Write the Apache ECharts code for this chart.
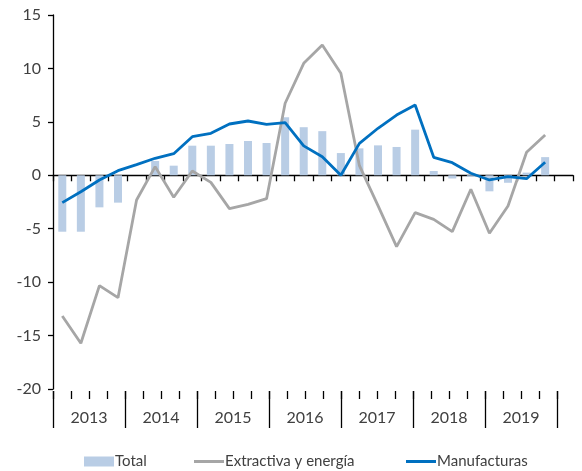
<!DOCTYPE html>
<html>
<head>
<meta charset="utf-8">
<script src="https://cdn.jsdelivr.net/npm/echarts@6/dist/echarts.min.js"></script>
<style>
  html, body { margin: 0; padding: 0; background: #fff; }
  #chart { width: 582px; height: 471px; }
</style>
</head>
<body>
<div id="chart"></div>
<script>
// trimestres 2013-2019 (el último sin dato)
var years = ['2013', '2014', '2015', '2016', '2017', '2018', '2019']
var quarters = []
years.forEach(function (y) {
    for (var q = 1; q <= 4; q++) quarters.push(y + 'T' + q)
})

var total = [-5.28, -5.28, -3.0, -2.56, 0, 1.34, 0.9, 2.77, 2.77, 2.93, 3.21, 3.02, 5.43, 4.5,
    4.13, 2.08, 2.52, 2.8, 2.65, 4.27, 0.4, -0.3, -0.13, -1.5, -0.7, 0.25, 1.7, null]
var extractiva = [-13.17, -15.72, -10.33, -11.45, -2.31, 0.81, -2.06, 0.4, -0.66, -3.12, -2.72, -2.19, 6.74, 10.48,
    12.19, 9.54, 0.9, -2.84, -6.68, -3.5, -4.12, -5.27, -1.31, -5.43, -2.87, 2.15, 3.77, null]
var manufacturas = [-2.56, -1.54, -0.44, 0.43, 1.0, 1.59, 2.02, 3.61, 3.93, 4.8, 5.08, 4.77, 4.92, 2.75,
    1.74, 0.0, 2.99, 4.4, 5.64, 6.58, 1.68, 1.18, 0.19, -0.44, -0.13, -0.32, 1.22, null]
var yTicks = [-20, -15, -10, -5, 0, 5, 10, 15]

var font = 'Lato'
var txtColor = '#404040'
var lineIcon = 'path://M0,0 L30,0 L30,3 L0,3 Z'

// geometría del área de trazado
var plotTop = 15, plotH = 374, plotLeft = 53, plotW = 520
var zeroY = plotTop + plotH * yTicks[yTicks.length - 1] / (yTicks[yTicks.length - 1] - yTicks[0])

var myChart = echarts.init(document.getElementById('chart'))

var legendBase = {
    top: 449,
    itemWidth: 30,
    itemHeight: 10,
    itemGap: 5,
    textStyle: { fontFamily: font, fontSize: 15, color: txtColor, padding: [0, 0, 0, -4] }
}

var option = {
    animation: false,
    legend: [
        Object.assign({ left: 79, data: [{ name: 'Total', icon: 'rect' }] }, legendBase),
        Object.assign({ left: 189, data: [{ name: 'Extractiva y energía', icon: lineIcon }] }, legendBase),
        Object.assign({ left: 401, data: [{ name: 'Manufacturas', icon: lineIcon }] }, legendBase)
    ],
    grid: [
        // franja bajo el cero: línea + marcas trimestrales
        { left: plotLeft, top: zeroY, width: plotW, height: 6 },
        { left: plotLeft, top: plotTop, width: plotW, height: plotH },
        { left: plotLeft, top: 391, width: 504, height: 0 }
    ],
    xAxis: [
        {
            gridIndex: 0,
            type: 'category',
            position: 'top',
            data: quarters,
            axisLine: { show: true, onZero: false, lineStyle: { color: '#000', width: 1.3 } },
            axisTick: { show: false },
            axisLabel: { show: false },
            splitLine: { show: true, interval: 0, lineStyle: { color: '#000', width: 1.3 } }
        },
        {
            gridIndex: 1,
            type: 'category',
            data: quarters,
            show: false
        },
        {
            // año
            gridIndex: 2,
            type: 'category',
            position: 'bottom',
            data: years,
            axisLine: { show: false },
            axisTick: { show: true, interval: 0, length: 37, lineStyle: { color: '#000', width: 1.3 } },
            axisLabel: { margin: 19, fontFamily: font, fontSize: 16, color: txtColor }
        },
        {
            // trimestres
            gridIndex: 2,
            type: 'category',
            position: 'bottom',
            data: quarters,
            axisLine: { show: false },
            axisTick: { show: true, interval: 0, length: 8, lineStyle: { color: '#000', width: 1.3 } },
            axisLabel: { show: false }
        }
    ],
    yAxis: [
        { gridIndex: 0, type: 'value', show: false, splitLine: { show: false } },
        {
            gridIndex: 1,
            type: 'value',
            min: yTicks[0],
            max: yTicks[yTicks.length - 1],
            interval: 5,
            splitLine: { show: false },
            axisLine: { show: true, lineStyle: { color: '#000', width: 1.3 } },
            axisTick: { show: true, length: 5, lineStyle: { color: '#000', width: 1.3 } },
            axisLabel: { margin: 12, fontFamily: font, fontSize: 16, color: txtColor }
        },
        { gridIndex: 2, type: 'value', show: false }
    ],
    series: [
        {
            name: 'Total',
            type: 'bar',
            xAxisIndex: 1,
            yAxisIndex: 1,
            barWidth: 8,
            itemStyle: { color: '#b9cde5' },
            data: total
        },
        {
            name: 'Extractiva y energía',
            type: 'line',
            xAxisIndex: 1,
            yAxisIndex: 1,
            symbol: 'none',
            lineStyle: { color: '#a6a6a6', width: 2.8 },
            itemStyle: { color: '#a6a6a6' },
            data: extractiva
        },
        {
            name: 'Manufacturas',
            type: 'line',
            xAxisIndex: 1,
            yAxisIndex: 1,
            symbol: 'none',
            lineStyle: { color: '#0070c0', width: 2.8 },
            itemStyle: { color: '#0070c0' },
            data: manufacturas
        }
    ]
}

myChart.setOption(option)
</script>
</body>
</html>
